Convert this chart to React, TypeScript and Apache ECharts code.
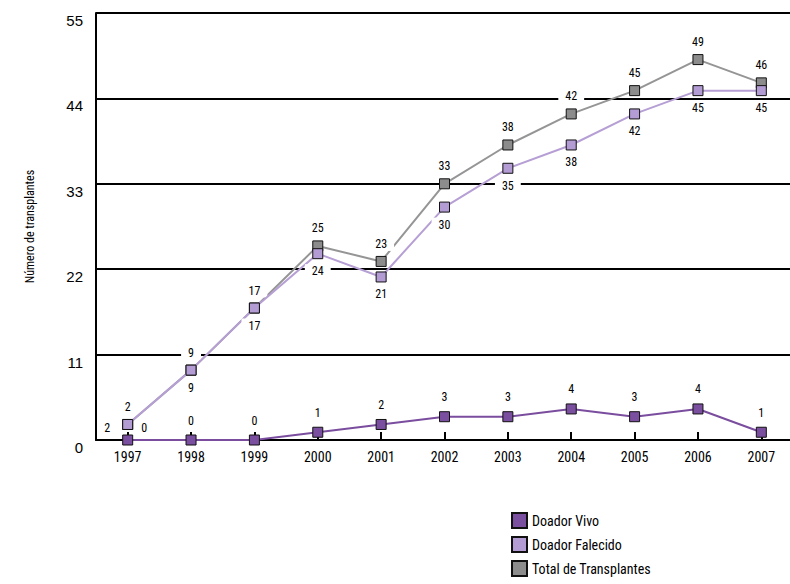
import React, { useEffect, useRef } from "react";
import * as echarts from "echarts";

const years = ["1997", "1998", "1999", "2000", "2001", "2002", "2003", "2004", "2005", "2006", "2007"];
const doadorVivo = [0, 0, 0, 1, 2, 3, 3, 4, 3, 4, 1];
const doadorFalecido = [2, 9, 17, 24, 21, 30, 35, 38, 42, 45, 45];
const totalTransplantes = [2, 9, 17, 25, 23, 33, 38, 42, 45, 49, 46];
const yTicks = [0, 11, 22, 33, 44, 55];

const NARROW = "'Liberation Sans Narrow', 'Arial Narrow', 'Roboto Condensed', sans-serif";

export default function App() {
  const ref = useRef<HTMLDivElement>(null);
  useEffect(() => {
    if (!ref.current) return;
    const chart = echarts.init(ref.current, undefined, { renderer: "svg" });
    const labelBase = {
      show: true,
      color: "#000",
      fontFamily: NARROW,
      fontSize: 12,
      backgroundColor: "#fff",
      padding: [1, 7],
      distance: 5,
    };
    const mk = (vals: number[], special: Record<number, any>) =>
      vals.map((v, i) => (special[i] ? { value: v, label: special[i] } : v));
    chart.setOption({
      animation: false,
      grid: { left: 96, top: 13, width: 697, bottom: 144 },
      legend: {
        orient: "vertical",
        left: 506,
        top: 507,
        height: 120,
        itemWidth: 15,
        itemHeight: 15,
        itemGap: 7,
        icon: "rect",
        data: ["Doador Vivo", "Doador Falecido", "Total de Transplantes"],
        textStyle: { fontFamily: NARROW, fontSize: 14, color: "#000" },
      },
      xAxis: {
        type: "category",
        data: years,
        boundaryGap: true,
        axisLine: { lineStyle: { color: "#000", width: 2 } },
        axisTick: { show: true, alignWithLabel: true, inside: true, length: 8, lineStyle: { color: "#000", width: 2 } },
        axisLabel: { color: "#000", fontFamily: NARROW, fontSize: 14, margin: 10 },
        splitLine: { show: false },
      },
      yAxis: {
        type: "value",
        min: yTicks[0],
        max: yTicks[yTicks.length - 1],
        interval: 11,
        name: "Número de transplantes",
        nameLocation: "middle",
        nameGap: 60,
        nameTextStyle: { color: "#000", fontFamily: NARROW, fontSize: 12 },
        axisLine: { show: true, lineStyle: { color: "#000", width: 2 } },
        axisTick: { show: false },
        axisLabel: { color: "#000", fontFamily: "'Liberation Sans', Arial, sans-serif", fontSize: 15, margin: 13, verticalAlign: "top" },
        splitLine: { show: true, lineStyle: { color: "#000", width: 2 } },
      },
      series: [
        {
          name: "Total de Transplantes",
          type: "line",
          z: 2,
          data: mk(totalTransplantes, { 0: { position: "left", offset: [0, 4] } }),
          symbol: "rect",
          symbolSize: 10,
          lineStyle: { color: "#959595", width: 2 },
          itemStyle: { color: "#8c8c8c", borderColor: "#111", borderWidth: 1 },
          label: { ...labelBase, position: "top" },
        },
        {
          name: "Doador Falecido",
          type: "line",
          z: 3,
          data: mk(doadorFalecido, { 0: { position: "top" } }),
          symbol: "rect",
          symbolSize: 10,
          lineStyle: { color: "#b69fd4", width: 2 },
          itemStyle: { color: "#b39bd3", borderColor: "#111", borderWidth: 1 },
          label: { ...labelBase, position: "bottom" },
        },
        {
          name: "Doador Vivo",
          type: "line",
          z: 4,
          data: mk(doadorVivo, { 0: { position: "right", offset: [0, -12], backgroundColor: "transparent", padding: 0 } }),
          symbol: "rect",
          symbolSize: 10,
          lineStyle: { color: "#7a4d9e", width: 2 },
          itemStyle: { color: "#7b4f9f", borderColor: "#111", borderWidth: 1 },
          label: { ...labelBase, position: "top", backgroundColor: "transparent", padding: 0, distance: 8 },
        },
      ],
    });
    return () => chart.dispose();
  }, []);
  return <div ref={ref} style={{ position: "absolute", left: 0, top: 0, width: 800, height: 584 }} />;
}
